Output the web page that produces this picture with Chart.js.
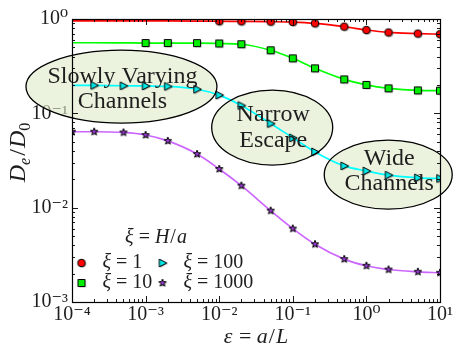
<!DOCTYPE html>
<html><head><meta charset="utf-8">
<script src="https://cdn.jsdelivr.net/npm/chart.js@4"></script>
<style>html,body{margin:0;padding:0;background:#fff;overflow:hidden}</style>
</head><body>
<canvas id="c" width="453" height="347" style="width:453px;height:347px;display:block"></canvas>
<script>
// ---- data ----
const xValues = [1e-4,2e-4,5e-4,1e-3,2e-3,5e-3,1e-2,2e-2,5e-2,0.1,0.2,0.5,1,2,5,10];
const xi1    = [0.955,0.955,0.955,0.954,0.953,0.950,0.946,0.944,0.937,0.928,0.900,0.830,0.764,0.720,0.700,0.690];
const xi10   = [0.560,0.560,0.558,0.556,0.556,0.555,0.550,0.540,0.466,0.383,0.300,0.229,0.200,0.184,0.175,0.174];
const xi100  = [0.198,0.198,0.196,0.195,0.193,0.180,0.156,0.121,0.078,0.055,0.039,0.0277,0.0245,0.0221,0.0207,0.0204];
const xi1000 = [0.0638,0.0638,0.0627,0.0589,0.051,0.037,0.0257,0.0171,0.0093,0.0060,0.0041,0.00285,0.00242,0.00221,0.00209,0.00204];
const seriesNames = ['1','10','100','1000'];
const markerFrom = [6,3,1,0];           // first index where a marker is shown
const annotationLines = [['Slowly Varying','Channels'],['Narrow','Escape'],['Wide','Channels']];
const annotationAt = [[4.7e-4,0.192],[0.0525,0.0707],[1.98,0.0224]]; // ellipse centres (data coords)
const legendTitle = 'H/a';

// ---- styles ----
const SERIF = "'Liberation Serif','DejaVu Serif',serif";
const TXT = '#1e1e1e';
const lineColors = ['#ff0000','#00ff00','#00ffff','#cc66ff'];
const markerFills = ['#ff0000','#00ee00','#00e8e8','#9a3ad6'];
const markerShapes = ['circle','square','triangle','star'];
const ellipseGeom = [
  {rx:95.5, ry:36.5, base:[-3.2,21.8]},
  {rx:60.5, ry:37.5, base:[-6.5,19.2]},
  {rx:64,   ry:34.5, base:[-9.5,15.5]}
];

function makeMarker(shape, fill){
  const s=14, c=document.createElement('canvas'); c.width=s; c.height=s;
  const g=c.getContext('2d');
  const path=(cx,cy)=>{
    g.beginPath();
    if(shape==='circle'){ g.arc(cx,cy,3.8,0,Math.PI*2); }
    else if(shape==='square'){ g.rect(cx-3.5,cy-3.5,7,7); }
    else if(shape==='triangle'){ g.moveTo(cx+4.3,cy); g.lineTo(cx-3.2,cy-3.9); g.lineTo(cx-3.2,cy+3.9); g.closePath(); }
    else { for(let i=0;i<10;i++){ const r=i%2?1.6:3.9; const a=-Math.PI/2+i*Math.PI/5; const px=cx+r*Math.cos(a), py=cy+r*Math.sin(a); if(i) g.lineTo(px,py); else g.moveTo(px,py);} g.closePath(); }
  };
  path(8,8); g.fillStyle='rgba(0,0,0,0.28)'; g.fill();
  path(7,7); g.fillStyle=fill; g.fill(); g.lineWidth=1; g.strokeStyle='#000'; g.stroke();
  return c;
}
const markers = markerShapes.map((s,i)=>makeMarker(s, markerFills[i]));

const SUP = {'-':'\u207B','0':'\u2070','1':'\u00B9','2':'\u00B2','3':'\u00B3','4':'\u2074','5':'\u2075'};
function powLabel(v){
  const e=Math.round(Math.log10(v));
  if(Math.abs(v-Math.pow(10,e))/Math.pow(10,e)>1e-6) return '';
  return '10'+String(e).split('').map(ch=>SUP[ch]).join('');
}

// parts: [text, italic, size, dy, gapAfter]
function mathText(ctx, parts, x, y, size, align){
  let w=0; const ws=[];
  parts.forEach(p=>{ const sz=p[2]||size; ctx.font=(p[1]?'italic ':'')+sz+'px '+SERIF; const m=ctx.measureText(p[0]).width+(p[4]||0); ws.push(m); w+=m; });
  let cx = align==='center' ? x-w/2 : x;
  ctx.textBaseline='alphabetic'; ctx.textAlign='left'; ctx.fillStyle=TXT;
  parts.forEach((p,i)=>{ const sz=p[2]||size; ctx.font=(p[1]?'italic ':'')+sz+'px '+SERIF; ctx.fillText(p[0],cx,y+(p[3]||0)); cx+=ws[i]; });
}

const series=[xi1,xi10,xi100,xi1000];
const datasets = series.map((arr,i)=>({
  label:'\u03BE = '+seriesNames[i],
  data:xValues.map((x,j)=>({x:x,y:arr[j]})),
  borderColor:lineColors[i], backgroundColor:markerFills[i], borderWidth:1.7, fill:false,
  cubicInterpolationMode:'monotone',
  pointStyle:markers[i],
  pointRadius:ctx=>ctx.dataIndex>=markerFrom[i]?4:0,
  pointHoverRadius:0
}));

function ellipseCenters(chart){
  const xs=chart.scales.x, ys=chart.scales.y;
  return annotationAt.map(([x,y])=>[xs.getPixelForValue(x), ys.getPixelForValue(y)]);
}

const decor = {
  id:'decor',
  beforeDatasetsDraw(chart){
    const ctx=chart.ctx; ctx.save();
    ellipseCenters(chart).forEach(([cx,cy],i)=>{
      const g=ellipseGeom[i];
      ctx.beginPath(); ctx.ellipse(cx,cy,g.rx,g.ry,0,0,Math.PI*2);
      ctx.fillStyle='rgba(222,235,200,0.6)'; ctx.fill();
    });
    ctx.restore();
  },
  afterDatasetsDraw(chart){
    const ctx=chart.ctx; ctx.save();
    ellipseCenters(chart).forEach(([cx,cy],i)=>{
      const g=ellipseGeom[i];
      ctx.beginPath(); ctx.ellipse(cx,cy,g.rx,g.ry,0,0,Math.PI*2);
      ctx.lineWidth=1.3; ctx.strokeStyle='#000'; ctx.stroke();
      ctx.font='24px '+SERIF; ctx.fillStyle=TXT; ctx.textAlign='center'; ctx.textBaseline='alphabetic';
      annotationLines[i].forEach((t,k)=>ctx.fillText(t,cx+1,cy+g.base[k]));
    });
    ctx.restore();
  },
  afterDraw(chart){
    const ctx=chart.ctx, a=chart.chartArea, xs=chart.scales.x, ys=chart.scales.y;
    ctx.save();
    ctx.strokeStyle='#000'; ctx.lineWidth=1.2;
    ctx.strokeRect(Math.round(a.left)+0.5, Math.round(a.top)+0.5, Math.round(a.right-a.left), Math.round(a.bottom-a.top));
    ctx.lineWidth=0.9;
    const tickSet=(lo,hi)=>{ const out=[]; for(let n=lo;n<hi;n++){ for(let k=1;k<=9;k++){ out.push([k*Math.pow(10,n),k===1]); } } out.push([Math.pow(10,hi),true]); return out; };
    tickSet(-4,1).forEach(([v,maj])=>{
      const px=Math.round(xs.getPixelForValue(v))+0.5, L=maj?6:3;
      ctx.beginPath(); ctx.moveTo(px,a.bottom); ctx.lineTo(px,a.bottom-L); ctx.moveTo(px,a.top); ctx.lineTo(px,a.top+L); ctx.stroke();
    });
    tickSet(-3,0).forEach(([v,maj])=>{
      const py=Math.round(ys.getPixelForValue(v))+0.5, L=maj?6:3;
      ctx.beginPath(); ctx.moveTo(a.left,py); ctx.lineTo(a.left+L,py); ctx.moveTo(a.right,py); ctx.lineTo(a.right-L,py); ctx.stroke();
    });
    // axis titles
    mathText(ctx,[['\u03B5',true,22,0,1],[' = ',false,22],['a',true,22,0,1],['/',false,22,0,1],['L',true,22]], (a.left+a.right)/2, 343, 22, 'center');
    ctx.save();
    ctx.translate(25, (a.top+a.bottom)/2-8);
    ctx.rotate(-Math.PI/2);
    mathText(ctx,[['D',true,24,0,0],['e',true,16,5,2],['/',false,24,0,1],['D',true,24,0,0],['0',false,16,5,0]], 0, 0, 24, 'center');
    ctx.restore();
    // legend
    const lx=a.left, ly=a.bottom;
    mathText(ctx,[['\u03BE',true],[' = ',false],['H',true,20,0,1],['/',false,20,0,1],['a',true]], lx+84, ly-59, 20, 'center');
    const pos=[[0,0],[0,1],[1,0],[1,1]];
    chart.data.datasets.forEach((ds,i)=>{
      const [c,r]=pos[i];
      const mx=lx+9.5+c*81, my=ly-39+r*20;
      ctx.drawImage(markers[i], mx-7, my-7);
      mathText(ctx,[['\u03BE',true],[' = '+seriesNames[i],false]], mx+21, my+4.5, 20, 'left');
    });
    ctx.restore();
  }
};

new Chart(document.getElementById('c'),{
  type:'line',
  data:{datasets:datasets},
  options:{
    responsive:false, animation:false, devicePixelRatio:1,
    layout:{padding:{top:19,right:13,left:0,bottom:0}},
    plugins:{legend:{display:false},tooltip:{enabled:false}},
    scales:{
      x:{type:'logarithmic',min:1e-4,max:10,
        grid:{display:false,drawTicks:false}, border:{display:false},
        ticks:{autoSkip:false,maxRotation:0,padding:1,color:TXT,font:{family:SERIF,size:20},callback:v=>powLabel(v)},
        title:{display:false},
        afterFit:s=>{s.height=45;s.paddingLeft=0;s.paddingRight=0;}
      },
      y:{type:'logarithmic',min:1e-3,max:1,
        grid:{display:false,drawTicks:false}, border:{display:false},
        ticks:{autoSkip:false,padding:4,color:TXT,font:{family:SERIF,size:20},callback:v=>powLabel(v)},
        title:{display:false},
        afterFit:s=>{s.width=72;s.paddingTop=0;s.paddingBottom=0;}
      }
    }
  },
  plugins:[decor]
});
</script>
</body></html>
